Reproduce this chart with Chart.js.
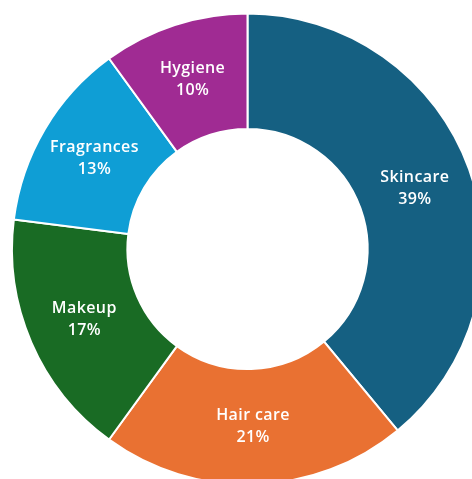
<!DOCTYPE html>
<html>
<head>
<meta charset="utf-8">
<script src="https://cdn.jsdelivr.net/npm/chart.js@4"></script>
<style>
html,body{margin:0;padding:0;background:#fff;overflow:hidden;width:472px;height:479px;}
#wrap{position:absolute;left:0;top:0;width:495px;height:498px;}
</style>
</head>
<body>
<div id="wrap"><canvas id="c" width="495" height="498"></canvas></div>
<script>
const categories = ["Skincare", "Hair care", "Makeup", "Fragrances", "Hygiene"];
const shares = [39, 21, 17, 13, 10];
const colors = ["#156082", "#E97132", "#196B24", "#0F9ED5", "#A02B93"];

const labelPlugin = {
  id: 'sliceLabels',
  afterDatasetsDraw(chart) {
    const ctx = chart.ctx;
    const meta = chart.getDatasetMeta(0);
    ctx.save();
    ctx.fillStyle = '#ffffff';
    ctx.font = '600 16px "Open Sans", sans-serif';
    try { ctx.letterSpacing = '0.4px'; } catch (e) {}
    ctx.textAlign = 'center';
    ctx.textBaseline = 'middle';
    meta.data.forEach((arc, i) => {
      const p = arc.tooltipPosition();
      ctx.fillText(categories[i], p.x, p.y - 11);
      ctx.fillText(shares[i] + '%', p.x, p.y + 11);
    });
    ctx.restore();
  }
};

new Chart(document.getElementById('c'), {
  type: 'doughnut',
  data: {
    labels: categories,
    datasets: [{
      data: shares,
      backgroundColor: colors,
      borderColor: '#ffffff',
      borderWidth: 2
    }]
  },
  options: {
    responsive: false,
    animation: false,
    cutout: '51%',
    layout: { padding: { left: 11, right: 11, top: 12, bottom: 12 } },
    plugins: { legend: { display: false }, tooltip: { enabled: false } }
  },
  plugins: [labelPlugin]
});
</script>
</body>
</html>
